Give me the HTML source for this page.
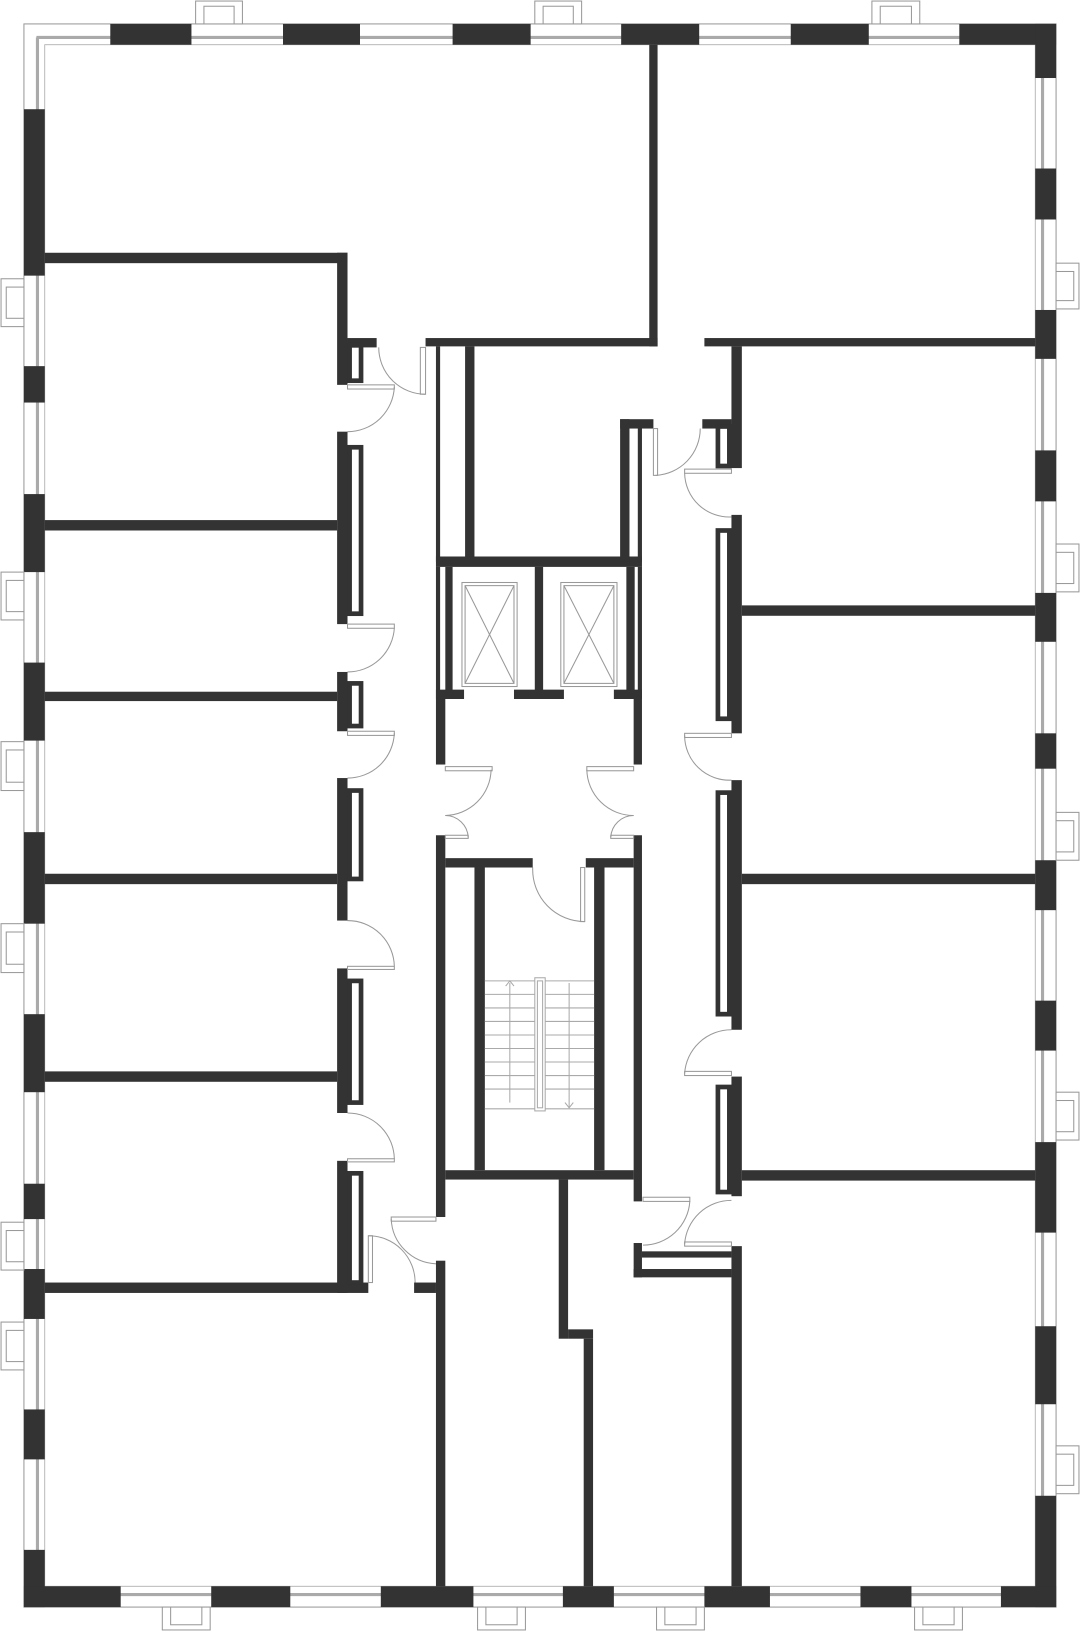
<!DOCTYPE html>
<html><head><meta charset="utf-8"><style>
html,body{margin:0;padding:0;background:#fff}
svg{display:block}
</style></head><body>
<svg width="1080" height="1631" viewBox="0 0 1038 1568" preserveAspectRatio="none" xmlns="http://www.w3.org/2000/svg">
<rect width="1038" height="1568" fill="#fff"/>
<!-- outer frame outline -->
<rect x="23" y="23" width="992" height="1522" fill="none" stroke="#999" stroke-width="1"/>
<rect x="43" y="43" width="952" height="1482" fill="none" stroke="#aaa" stroke-width="0.8"/>
<!-- window glass lines -->
<g stroke="#aaa" stroke-width="3" fill="none">
<line x1="35" y1="36" x2="1003" y2="36"/><line x1="35" y1="1533" x2="1003" y2="1533"/>
<line x1="36" y1="36" x2="36" y2="1533"/><line x1="1002" y1="36" x2="1002" y2="1533"/>
</g>
<g fill="#333">
<!-- top wall -->
<rect x="106" y="23" width="78" height="20"/><rect x="272" y="23" width="74" height="20"/>
<rect x="435" y="23" width="75" height="20"/><rect x="597" y="23" width="75" height="20"/>
<rect x="760" y="23" width="75" height="20"/><rect x="922" y="23" width="93" height="20"/>
<!-- left wall -->
<rect x="23" y="105" width="20" height="160"/><rect x="23" y="352" width="20" height="35"/>
<rect x="23" y="475" width="20" height="75"/><rect x="23" y="637" width="20" height="75"/>
<rect x="23" y="800" width="20" height="88"/><rect x="23" y="975" width="20" height="75"/>
<rect x="23" y="1138" width="20" height="34"/><rect x="23" y="1220" width="20" height="48"/>
<rect x="23" y="1355" width="20" height="48"/><rect x="23" y="1490" width="20" height="55"/>
<!-- right wall -->
<rect x="995" y="23" width="20" height="52"/><rect x="995" y="162" width="20" height="49"/>
<rect x="995" y="298" width="20" height="47"/><rect x="995" y="433" width="20" height="49"/>
<rect x="995" y="570" width="20" height="47"/><rect x="995" y="705" width="20" height="34"/>
<rect x="995" y="827" width="20" height="48"/><rect x="995" y="962" width="20" height="48"/>
<rect x="995" y="1098" width="20" height="87"/><rect x="995" y="1275" width="20" height="75"/>
<rect x="995" y="1438" width="20" height="107"/>
<!-- bottom wall -->
<rect x="23" y="1525" width="93" height="20"/><rect x="203" y="1525" width="76" height="20"/>
<rect x="366" y="1525" width="89" height="20"/><rect x="541" y="1525" width="49" height="20"/>
<rect x="677" y="1525" width="63" height="20"/><rect x="827" y="1525" width="49" height="20"/>
<rect x="962" y="1525" width="53" height="20"/>

<!-- left apartments -->
<rect x="43" y="243" width="291" height="10"/>
<rect x="324" y="243" width="10" height="127"/>
<rect x="324" y="415" width="10" height="185"/>
<rect x="324" y="646" width="10" height="57"/>
<rect x="324" y="748" width="10" height="137"/>
<rect x="324" y="931" width="10" height="139"/>
<rect x="324" y="1116" width="10" height="127"/>
<rect x="43" y="500" width="281" height="10"/>
<rect x="43" y="665" width="281" height="9"/>
<rect x="43" y="840" width="281" height="10"/>
<rect x="43" y="1030" width="281" height="10"/>
<rect x="43" y="1233" width="311" height="10"/>
<rect x="334" y="325" width="28" height="9"/>
<rect x="398" y="1233" width="21" height="10"/>

<!-- top right walls -->
<rect x="624" y="43" width="8" height="290"/>
<rect x="409" y="325" width="223" height="8"/>
<rect x="677" y="325" width="318" height="8"/>
<rect x="703" y="333" width="10" height="117"/>
<rect x="703" y="495" width="10" height="210"/>
<rect x="703" y="750" width="10" height="240"/>
<rect x="703" y="1035" width="10" height="115"/>
<rect x="703" y="1198" width="10" height="327"/>
<rect x="675" y="403" width="28" height="9"/>
<rect x="713" y="582" width="282" height="10"/>
<rect x="713" y="840" width="282" height="10"/>
<rect x="713" y="1125" width="282" height="10"/>

<!-- core -->
<rect x="419" y="333" width="4" height="207"/>
<rect x="447" y="333" width="9" height="207"/>
<rect x="419" y="535" width="198" height="10"/>
<rect x="596" y="403" width="9" height="137"/>
<rect x="596" y="403" width="32" height="9"/>
<rect x="613" y="410" width="4" height="130"/>
<rect x="419" y="545" width="4" height="127"/>
<rect x="428" y="545" width="7" height="127"/>
<rect x="514" y="545" width="8" height="127"/>
<rect x="602" y="545" width="8" height="127"/>
<rect x="613" y="545" width="4" height="127"/>
<rect x="419" y="663" width="27" height="9"/>
<rect x="494" y="663" width="48" height="9"/>
<rect x="590" y="663" width="27" height="9"/>
<rect x="419" y="672" width="9" height="63"/>
<rect x="609" y="672" width="8" height="63"/>
<rect x="419" y="803" width="9" height="367"/>
<rect x="609" y="803" width="8" height="352"/>
<rect x="428" y="825" width="84" height="9"/>
<rect x="563" y="825" width="46" height="9"/>
<rect x="456" y="834" width="10" height="291"/>
<rect x="571" y="834" width="10" height="291"/>
<rect x="428" y="1125" width="181" height="9"/>
<rect x="419" y="1212" width="9" height="313"/>
<rect x="537" y="1134" width="9" height="153"/>
<rect x="546" y="1278" width="24" height="9"/>
<rect x="561" y="1287" width="9" height="238"/>
<rect x="609" y="1195" width="8" height="33"/>
<rect x="609" y="1220" width="94" height="8"/>
<rect x="617" y="1203" width="86" height="6"/>
</g>

<!-- closets (dark outlines) -->
<g fill="none" stroke="#333" stroke-width="4.5">
<rect x="336" y="332" width="11" height="34"/>
<rect x="336" y="430" width="11" height="160"/>
<rect x="336" y="657" width="11" height="41"/>
<rect x="336" y="760" width="11" height="85"/>
<rect x="336" y="943" width="11" height="117"/>
<rect x="336" y="1128" width="11" height="105"/>
<rect x="690" y="410" width="11" height="38"/>
<rect x="690" y="510" width="11" height="181"/>
<rect x="690" y="762" width="11" height="213"/>
<rect x="690" y="1045" width="11" height="101"/>
</g>

<!-- elevators -->
<g fill="none" stroke="#999" stroke-width="1">
<rect x="444" y="560" width="53" height="100"/><rect x="447" y="563" width="47" height="94"/>
<line x1="447" y1="563" x2="494" y2="657"/><line x1="494" y1="563" x2="447" y2="657"/>
<rect x="539" y="560" width="54" height="100"/><rect x="542" y="563" width="48" height="94"/>
<line x1="542" y1="563" x2="590" y2="657"/><line x1="590" y1="563" x2="542" y2="657"/>
</g>

<!-- stairs -->
<g stroke="#aaa" stroke-width="1" fill="none">
<line x1="466" y1="943" x2="571" y2="943"/>
<line x1="466" y1="956" x2="571" y2="956"/><line x1="466" y1="969" x2="571" y2="969"/>
<line x1="466" y1="982" x2="571" y2="982"/><line x1="466" y1="995" x2="571" y2="995"/>
<line x1="466" y1="1008" x2="571" y2="1008"/><line x1="466" y1="1021" x2="571" y2="1021"/>
<line x1="466" y1="1034" x2="571" y2="1034"/><line x1="466" y1="1047" x2="571" y2="1047"/>
<line x1="466" y1="1066" x2="571" y2="1066"/>
<rect x="514" y="940" width="10" height="128" fill="#fff"/><rect x="516.5" y="943" width="5" height="122"/>
<line x1="490" y1="945" x2="490" y2="1060"/><path d="M486 948 L490 943 L494 948"/>
<line x1="547" y1="945" x2="547" y2="1065"/><path d="M543 1060 L547 1065 L551 1060"/>
</g>

<!-- doors -->
<g fill="none" stroke="#999" stroke-width="1">
<path d="M364 334 A45 45 0 0 0 409 379"/><rect x="404" y="334" width="5" height="45"/>
<path d="M379 372 A45 45 0 0 1 334 415"/><rect x="334" y="370" width="45" height="4"/>
<path d="M379 604 A45 45 0 0 1 334 646"/><rect x="334" y="600" width="45" height="4"/>
<path d="M379 705 A45 45 0 0 1 334 748"/><rect x="334" y="703" width="45" height="4"/>
<path d="M334 885 A45 45 0 0 1 379 929"/><rect x="334" y="929" width="45" height="3"/>
<path d="M334 1070 A45 45 0 0 1 379 1114"/><rect x="334" y="1114" width="45" height="3"/>
<path d="M354 1188 A45 45 0 0 1 399 1233"/><rect x="354" y="1188" width="4" height="45"/>
<path d="M376 1172 A45 45 0 0 0 419 1215"/><rect x="376" y="1170" width="43" height="4"/>
<path d="M673 412 A45 45 0 0 1 630 457"/><rect x="628" y="412" width="4" height="45"/>
<path d="M658 455 A43 43 0 0 0 703 497"/><rect x="658" y="451" width="45" height="4"/>
<path d="M658 707 A43 43 0 0 0 703 750"/><rect x="658" y="705" width="45" height="4"/>
<path d="M703 990 A45 45 0 0 0 658 1032"/><rect x="658" y="1030" width="45" height="4"/>
<path d="M703 1154 A45 45 0 0 0 658 1196"/><rect x="658" y="1194" width="45" height="4"/>
<path d="M663 1155 A45 45 0 0 1 618 1197"/><rect x="618" y="1151" width="45" height="4"/>
<path d="M472 740 A45 45 0 0 1 428 784"/><rect x="428" y="737" width="45" height="4"/>
<path d="M428 784 A22 22 0 0 1 450 805"/><rect x="428" y="803" width="22" height="3"/>
<path d="M564 740 A45 45 0 0 0 609 784"/><rect x="564" y="737" width="45" height="4"/>
<path d="M609 784 A22 22 0 0 0 587 805"/><rect x="587" y="803" width="22" height="3"/>
<path d="M512 834 A50 50 0 0 0 562 886"/><rect x="558" y="834" width="4" height="52"/>
</g>

<!-- balconies -->
<g fill="#fff" stroke="#999" stroke-width="1">
<rect x="188" y="1" width="45" height="22"/><rect x="196" y="6" width="29" height="17"/>
<rect x="514" y="1" width="45" height="22"/><rect x="522" y="6" width="29" height="17"/>
<rect x="838" y="1" width="46" height="22"/><rect x="846" y="6" width="30" height="17"/>
<rect x="1" y="268" width="22" height="46"/><rect x="6" y="276" width="17" height="30"/>
<rect x="1" y="550" width="22" height="46"/><rect x="6" y="558" width="17" height="30"/>
<rect x="1" y="713" width="22" height="47"/><rect x="6" y="721" width="17" height="31"/>
<rect x="1" y="888" width="22" height="47"/><rect x="6" y="896" width="17" height="31"/>
<rect x="1" y="1175" width="22" height="46"/><rect x="6" y="1183" width="17" height="30"/>
<rect x="1" y="1271" width="22" height="46"/><rect x="6" y="1279" width="17" height="30"/>
<rect x="1015" y="253" width="22" height="44"/><rect x="1015" y="261" width="17" height="28"/>
<rect x="1015" y="523" width="22" height="46"/><rect x="1015" y="531" width="17" height="30"/>
<rect x="1015" y="781" width="22" height="46"/><rect x="1015" y="789" width="17" height="30"/>
<rect x="1015" y="1050" width="22" height="46"/><rect x="1015" y="1058" width="17" height="30"/>
<rect x="1015" y="1390" width="22" height="46"/><rect x="1015" y="1398" width="17" height="30"/>
<rect x="156" y="1545" width="46" height="22"/><rect x="164" y="1545" width="30" height="17"/>
<rect x="459" y="1545" width="46" height="22"/><rect x="467" y="1545" width="30" height="17"/>
<rect x="631" y="1545" width="46" height="22"/><rect x="639" y="1545" width="30" height="17"/>
<rect x="879" y="1545" width="46" height="22"/><rect x="887" y="1545" width="30" height="17"/>
</g>
</svg>
</body></html>
